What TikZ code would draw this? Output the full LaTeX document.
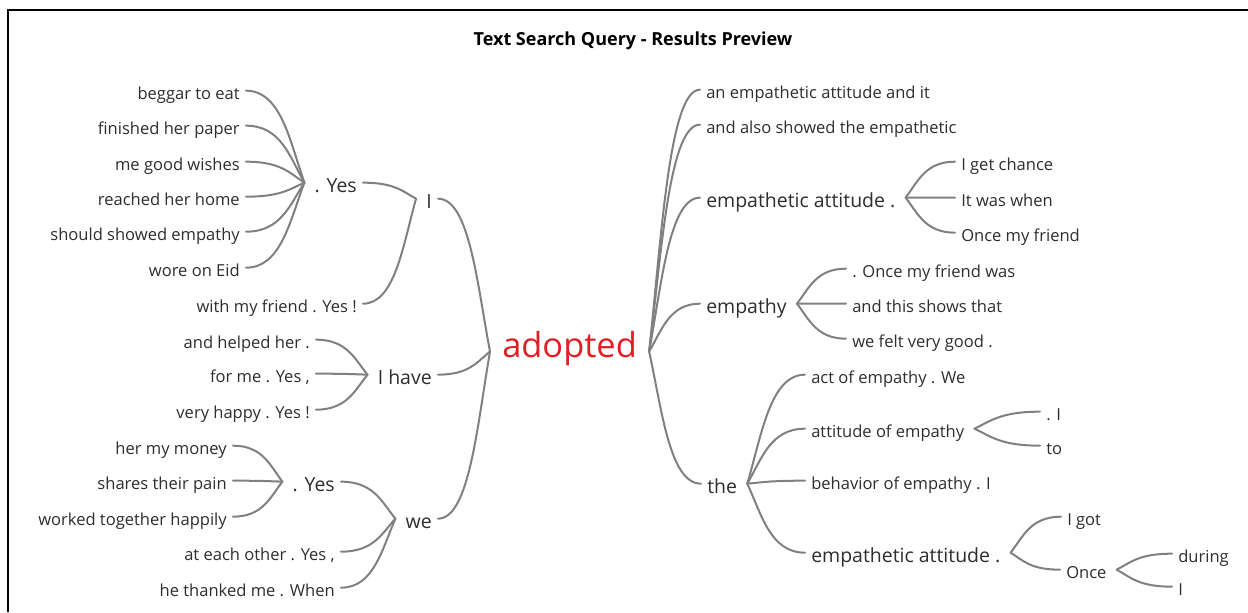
\documentclass[tikz,border=0pt]{standalone}
\usepackage{fontspec}
\setmainfont{Open Sans}
\usetikzlibrary{calc}
\definecolor{wire}{RGB}{128,128,128}
\definecolor{ink}{RGB}{45,45,45}
\definecolor{keyred}{RGB}{226,30,38}
\tikzset{
  base/.style={inner ysep=0pt, inner xsep=4.5pt, text=ink, text depth=0pt},
  small/.style={base, font=\fontsize{12.4}{14}\selectfont, text height=1.25em},
  mid/.style={base, font=\fontsize{14.6}{17}\selectfont, text height=1.4em},
  lft/.style={anchor=base east, xshift=4.5pt},
  rgt/.style={anchor=base west, xshift=-4.5pt},
  link/.style={draw=wire, line width=1.5pt, line cap=round},
  branch/.style={to path={
    let \p1=(\tikztostart), \p2=(\tikztotarget) in
    .. controls ($(\p1)+({0.25*(\x2-\x1)},{0.45*(\y2-\y1)})$)
       and ($(\p2)+({-0.6*(\x2-\x1)},0)$) .. (\tikztotarget) \tikztonodes}}
}
\begin{document}
\begin{tikzpicture}[x=0.75pt,y=-0.75pt]
\useasboundingbox (0,0) rectangle (1248,612);
% frame
\draw[line width=1.2pt] (8,612) -- (8,10) -- (1248,10);
% title
\node[font=\fontsize{13.5}{16}\selectfont\bfseries, anchor=base, inner sep=0pt] (title) at (633,45) {Text Search Query - Results Preview};

% centre word
\node[base, rgt, font=\fontsize{25.8}{30}\selectfont, text=keyred, text height=0.82em] (adopted) at (502,357) {adopted};

% ---- left half ----
\node[mid, lft] (I) at (432,208) {I};
\node[mid, lft] (yes1) at (357,192) {. Yes};
\node[small, lft] (wf) at (357,312) {with my friend . Yes !};
\node[small, lft] (l1) at (240,99) {beggar to eat};
\node[small, lft] (l2) at (240,134) {finished her paper};
\node[small, lft] (l3) at (240,170) {me good wishes};
\node[small, lft] (l4) at (240,205) {reached her home};
\node[small, lft] (l5) at (240,240) {should showed empathy};
\node[small, lft] (l6) at (240,276) {wore on Eid};

\node[mid, lft] (ihave) at (432,384) {I have};
\node[small, lft] (h1) at (310,348) {and helped her .};
\node[small, lft] (h2) at (310,382) {for me . Yes ,};
\node[small, lft] (h3) at (310,418) {very happy . Yes !};

\node[mid, lft] (we) at (432,528) {we};
\node[mid, lft] (yes2) at (335,491) {. Yes};
\node[small, lft] (w1) at (227,454) {her my money};
\node[small, lft] (w2) at (227,489) {shares their pain};
\node[small, lft] (w3) at (227,525) {worked together happily};
\node[small, lft] (w4) at (335,560) {at each other . Yes ,};
\node[small, lft] (w5) at (335,596) {he thanked me . When};

% ---- right half ----
\node[small, rgt] (r1) at (706,98) {an empathetic attitude and it};
\node[small, rgt] (r2) at (706,133) {and also showed the empathetic};
\node[mid, rgt] (ea1) at (706,207) {empathetic attitude .};
\node[small, rgt] (e1) at (961,170) {I get chance};
\node[small, rgt] (e2) at (961,206) {It was when};
\node[small, rgt] (e3) at (961,241) {Once my friend};
\node[mid, rgt] (emp) at (706,313) {empathy};
\node[small, rgt] (p1) at (852,277) {. Once my friend was};
\node[small, rgt] (p2) at (852,312) {and this shows that};
\node[small, rgt] (p3) at (852,347) {we felt very good .};
\node[mid, rgt] (the) at (707,493) {the};
\node[small, rgt] (t1) at (811,383) {act of empathy . We};
\node[small, rgt] (t2) at (811,437) {attitude of empathy};
\node[small, rgt] (t3) at (811,489) {behavior of empathy . I};
\node[mid, rgt] (ea2) at (811,562) {empathetic attitude .};
\node[small, rgt] (a1) at (1046,420) {. I};
\node[small, rgt] (a2) at (1046,454) {to};
\node[small, rgt] (g1) at (1067,525) {I got};
\node[small, rgt] (once) at (1066,578) {Once};
\node[small, rgt] (d1) at (1178,562) {during};
\node[small, rgt] (d2) at (1178,595) {I};

% junction points where the branches meet
\coordinate (hAL) at ([xshift=-4.5pt]adopted.west);
\coordinate (hAR) at ([xshift=4.5pt]adopted.east);
\coordinate (hI) at ([xshift=-3pt]I.west);
\coordinate (hY1) at ([xshift=-3pt]yes1.west);
\coordinate (hIH) at ([xshift=-3pt]ihave.west);
\coordinate (hWe) at ([xshift=-3pt]we.west);
\coordinate (hY2) at ([xshift=-3pt]yes2.west);
\coordinate (hEA1) at ([xshift=3pt]ea1.east);
\coordinate (hEmp) at ([xshift=3pt]emp.east);
\coordinate (hThe) at ([xshift=3pt]the.east);
\coordinate (hT2) at ([xshift=3pt]t2.east);
\coordinate (hEA2) at ([xshift=3pt]ea2.east);
\coordinate (hOnce) at ([xshift=3pt]once.east);

% connectors, left half
\foreach \k in {I, ihave, we} \draw[link] (hAL) to[branch] (\k.east);
\foreach \k in {yes1, wf} \draw[link] (hI) to[branch] (\k.east);
\foreach \k in {l1, l2, l3, l4, l5, l6} \draw[link] (hY1) to[branch] (\k.east);
\foreach \k in {h1, h2, h3} \draw[link] (hIH) to[branch] (\k.east);
\foreach \k in {yes2, w4, w5} \draw[link] (hWe) to[branch] (\k.east);
\foreach \k in {w1, w2, w3} \draw[link] (hY2) to[branch] (\k.east);

% connectors, right half
\foreach \k in {r1, r2, ea1, emp, the} \draw[link] (hAR) to[branch] (\k.west);
\foreach \k in {e1, e2, e3} \draw[link] (hEA1) to[branch] (\k.west);
\foreach \k in {p1, p2, p3} \draw[link] (hEmp) to[branch] (\k.west);
\foreach \k in {t1, t2, t3, ea2} \draw[link] (hThe) to[branch] (\k.west);
\foreach \k in {a1, a2} \draw[link] (hT2) to[branch] (\k.west);
\foreach \k in {g1, once} \draw[link] (hEA2) to[branch] (\k.west);
\foreach \k in {d1, d2} \draw[link] (hOnce) to[branch] (\k.west);
\end{tikzpicture}
\end{document}
